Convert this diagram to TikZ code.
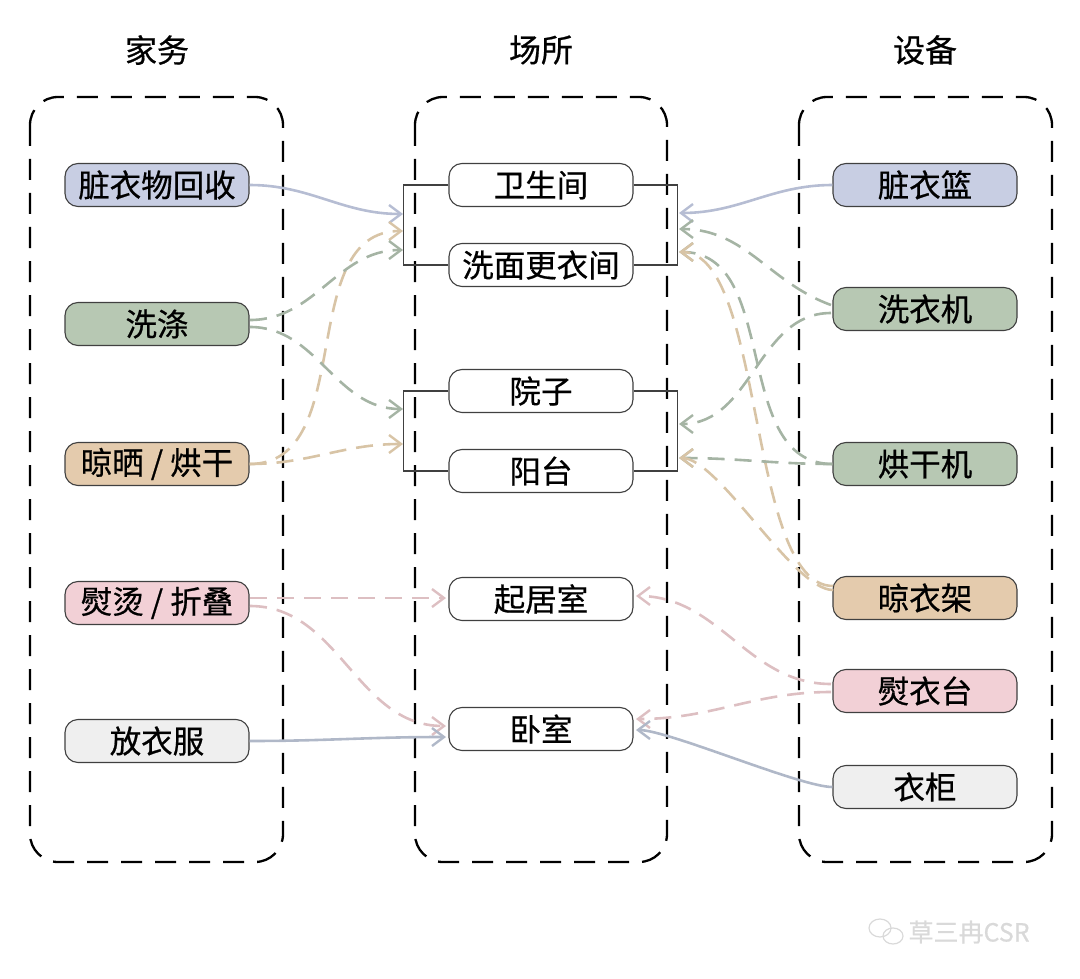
\documentclass[tikz,border=0pt]{standalone}
\usepackage{fontspec}
\setmainfont{Noto Sans CJK SC}[FakeBold=0.6]
\usetikzlibrary{arrows.meta}
\definecolor{lavF}{HTML}{C8CEE3}
\definecolor{lavA}{HTML}{B6BDD3}
\definecolor{grnF}{HTML}{B7C8B3}
\definecolor{grnA}{HTML}{A5B4A4}
\definecolor{tanF}{HTML}{E4CBAD}
\definecolor{tanA}{HTML}{D8C4A6}
\definecolor{pnkF}{HTML}{F2D0D6}
\definecolor{pnkA}{HTML}{DDBFC2}
\definecolor{gryF}{HTML}{EFEFEF}
\definecolor{gryA}{HTML}{B0B8C8}
\definecolor{wmC}{HTML}{D9D9D9}
\begin{document}
\begin{tikzpicture}[x=1pt,y=-1pt,
  grpbox/.style={draw=black,line width=2.3pt,dash pattern=on 21pt off 13pt,rounded corners=28pt},
  item/.style={draw=black!75,line width=1.1pt,rounded corners=13pt,minimum width=184pt,minimum height=43pt,inner sep=0pt,font=\fontsize{31.5}{31.5}\selectfont},
  hdr/.style={font=\fontsize{32}{32}\selectfont},
  arr/.style={line width=2.6pt,-{Straight Barb[length=12pt,width=18pt,line width=2.4pt]}},
  dsh/.style={dash pattern=on 17pt off 10pt},
  brk/.style={draw=black!75,line width=1.1pt}]
\useasboundingbox (0,0) rectangle (1080,979);

% group boxes
\draw[grpbox] (30,97) rectangle (283,862);
\draw[grpbox] (415,97) rectangle (667,862);
\draw[grpbox] (799,97) rectangle (1052,862);

% headers
\node[hdr] (h1) at (157,50) {家务};
\node[hdr] (h2) at (541,50) {场所};
\node[hdr] (h3) at (925,50) {设备};

% left column
\node[item,fill=lavF] (l1) at (157,185) {脏衣物回收};
\node[item,fill=grnF] (l2) at (157,324) {洗涤};
\node[item,fill=tanF] (l3) at (157,464) {晾晒 / 烘干};
\node[item,fill=pnkF] (l4) at (157,603) {熨烫 / 折叠};
\node[item,fill=gryF] (l5) at (157,741) {放衣服};

% middle column
\node[item,fill=white] (m1) at (541,185) {卫生间};
\node[item,fill=white] (m2) at (541,265) {洗面更衣间};
\node[item,fill=white] (m3) at (541,391) {院子};
\node[item,fill=white] (m4) at (541,471) {阳台};
\node[item,fill=white] (m5) at (541,599) {起居室};
\node[item,fill=white] (m6) at (541,729) {卧室};

% right column
\node[item,fill=lavF] (r1) at (925,185) {脏衣篮};
\node[item,fill=grnF] (r2) at (925,309) {洗衣机};
\node[item,fill=grnF] (r3) at (925,464) {烘干机};
\node[item,fill=tanF] (r4) at (925,598) {晾衣架};
\node[item,fill=pnkF] (r5) at (925,691) {熨衣台};
\node[item,fill=gryF] (r6) at (925,787) {衣柜};

% brackets
\draw[brk] (m1.west) -- ++(-45,0) |- (m2.west);
\draw[brk] (m3.west) -- ++(-45,0) |- (m4.west);
\draw[brk] (m1.east) -- ++(44,0) |- (m2.east);
\draw[brk] (m3.east) -- ++(44,0) |- (m4.east);

% arrow targets
\coordinate (a1) at (403,214);
\coordinate (a2) at (403,231);
\coordinate (a3) at (403,250);
\coordinate (a4) at (403,409);
\coordinate (a5) at (403,444);
\coordinate (a6) at (446,598);
\coordinate (a7) at (446,726);
\coordinate (a8) at (446,737);
\coordinate (b1) at (679,213);
\coordinate (b2) at (679,229);
\coordinate (b3) at (679,252);
\coordinate (b4) at (679,424);
\coordinate (b5) at (679,458);
\coordinate (b6) at (636,596);
\coordinate (b7) at (636,719);
\coordinate (b8) at (636,730);

% start points
\coordinate (s2a) at (250,320);
\coordinate (s2b) at (250,327);
\coordinate (s4a) at (250,598);
\coordinate (s4b) at (250,606);
\coordinate (q2a) at (831,305);
\coordinate (q2b) at (831,313);
\coordinate (q4a) at (833,586);
\coordinate (q4b) at (833,590);
\coordinate (q5a) at (831,684);
\coordinate (q5b) at (831,692);

% left arrows
\draw[arr,lavA] (l1.east) to[out=0,in=180] (a1);
\draw[arr,dsh,tanA] (l3.east) to[out=0,in=180] (a2);
\draw[arr,dsh,grnA] (s2a) to[out=0,in=180] (a3);
\draw[arr,dsh,grnA] (s2b) to[out=0,in=180] (a4);
\draw[arr,dsh,tanA] (l3.east) to[out=0,in=180] (a5);
\draw[arr,dsh,pnkA] (s4a) -- (a6);
\draw[arr,dsh,pnkA] (s4b) to[out=0,in=180] (a7);
\draw[arr,gryA] (l5.east) to[out=0,in=180] (a8);

% right arrows
\draw[arr,lavA] (r1.west) to[out=180,in=0] (b1);
\draw[arr,dsh,grnA] (q2a) to[out=160,in=0] (b2);
\draw[arr,dsh,grnA] (r3.west) to[out=180,in=0] (b3);
\draw[arr,dsh,tanA] (q4a) to[out=180,in=0,looseness=0.6] (b3);
\draw[arr,dsh,grnA] (q2b) to[out=180,in=0] (b4);
\draw[arr,dsh,grnA] (r3.west) to[out=180,in=0] (b5);
\draw[arr,dsh,tanA] (q4b) to[out=180,in=0,looseness=0.5] (b5);
\draw[arr,dsh,pnkA] (q5a) to[out=180,in=0] (b6);
\draw[arr,dsh,pnkA] (q5b) to[out=180,in=0] (b7);
\draw[arr,gryA] (r6.west) to[out=180,in=0,looseness=0.4] (b8);

% watermark
\draw[wmC,line width=1.2pt] (880,928) circle[x radius=11pt,y radius=9pt];
\draw[wmC,line width=1.2pt] (893,936) circle[x radius=10pt,y radius=8pt];
\node[text=wmC,font=\fontsize{25}{25}\selectfont,anchor=west] (wm) at (905,932) {草三冉CSR};
\end{tikzpicture}
\end{document}
